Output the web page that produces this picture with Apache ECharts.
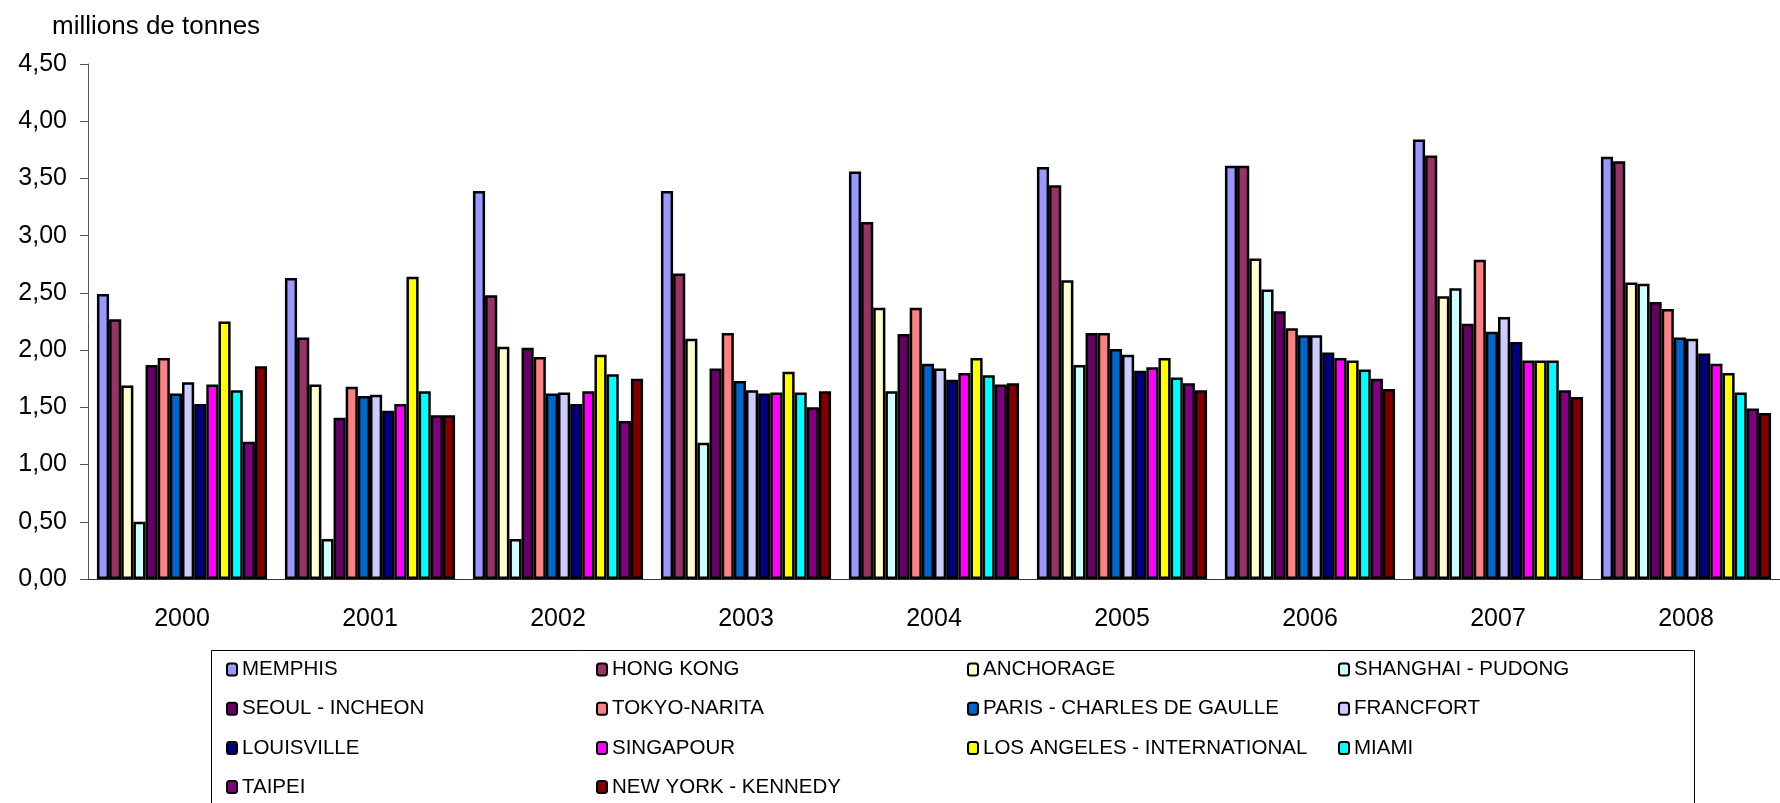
<!DOCTYPE html>
<html>
<head>
<meta charset="utf-8">
<title>Fret aéroports</title>
<script src="https://cdn.jsdelivr.net/npm/echarts@6/dist/echarts.min.js"></script>
<style>
  html, body { margin: 0; padding: 0; background: #fff; }
  #main { width: 1780px; height: 803px; }
</style>
</head>
<body>
<div id="main"></div>
<script>
// années (catégories)
var years = ['2000', '2001', '2002', '2003', '2004', '2005', '2006', '2007', '2008']

// millions de tonnes par aéroport
var memphis = [2.49, 2.63, 3.39, 3.39, 3.56, 3.60, 3.61, 3.84, 3.69]
var hongKong = [2.27, 2.11, 2.48, 2.67, 3.12, 3.44, 3.61, 3.70, 3.65]
var anchorage = [1.69, 1.70, 2.03, 2.10, 2.37, 2.61, 2.80, 2.47, 2.59]
var shanghai = [0.50, 0.35, 0.35, 1.19, 1.64, 1.87, 2.53, 2.54, 2.58]
var seoul = [1.87, 1.41, 2.02, 1.84, 2.14, 2.15, 2.34, 2.23, 2.42]
var tokyo = [1.93, 1.68, 1.94, 2.15, 2.37, 2.15, 2.19, 2.79, 2.36]
var paris = [1.62, 1.60, 1.62, 1.73, 1.88, 2.01, 2.13, 2.16, 2.11]
var francfort = [1.72, 1.61, 1.63, 1.65, 1.84, 1.96, 2.13, 2.29, 2.10]
var louisville = [1.53, 1.47, 1.53, 1.62, 1.74, 1.82, 1.98, 2.07, 1.97]
var singapour = [1.70, 1.53, 1.64, 1.63, 1.80, 1.85, 1.93, 1.91, 1.88]
var losAngeles = [2.25, 2.64, 1.96, 1.81, 1.93, 1.93, 1.91, 1.91, 1.80]
var miami = [1.65, 1.64, 1.79, 1.63, 1.78, 1.76, 1.83, 1.91, 1.63]
var taipei = [1.20, 1.43, 1.38, 1.50, 1.70, 1.71, 1.75, 1.65, 1.49]
var newYork = [1.86, 1.43, 1.75, 1.64, 1.71, 1.65, 1.66, 1.59, 1.45]

var names = ['MEMPHIS', 'HONG KONG', 'ANCHORAGE', 'SHANGHAI - PUDONG', 'SEOUL - INCHEON',
  'TOKYO-NARITA', 'PARIS - CHARLES DE GAULLE', 'FRANCFORT', 'LOUISVILLE', 'SINGAPOUR',
  'LOS ANGELES - INTERNATIONAL', 'MIAMI', 'TAIPEI', 'NEW YORK - KENNEDY']
var values = [memphis, hongKong, anchorage, shanghai, seoul, tokyo, paris, francfort,
  louisville, singapour, losAngeles, miami, taipei, newYork]
var colors = ['#9999FF', '#993366', '#FFFFCC', '#CCFFFF', '#660066', '#FF8080', '#0066CC',
  '#CCCCFF', '#000080', '#FF00FF', '#FFFF00', '#00FFFF', '#800080', '#800000']

var font = '"Liberation Sans", Arial, sans-serif'

var chart = echarts.init(document.getElementById('main'))

var series = names.map(function (n, i) {
  return {
    name: n,
    type: 'bar',
    barGap: '0%',
    barCategoryGap: '9.5%',
    itemStyle: {
      color: colors[i],
      borderColor: '#000',
      borderWidth: 2.5
    },
    data: values[i]
  }
})

// légende en 4 colonnes
var cols = [
  { left: 226, items: [names[0], names[4], names[8], names[12]] },
  { left: 596, items: [names[1], names[5], names[9], names[13]] },
  { left: 967, items: [names[2], names[6], names[10]] },
  { left: 1338, items: [names[3], names[7], names[11]] }
]
var legends = cols.map(function (c) {
  return {
    orient: 'vertical',
    left: c.left,
    top: 659,
    padding: 0,
    itemWidth: 10,
    itemHeight: 12,
    itemGap: 18.2,
    selectedMode: false,
    textStyle: {
      fontFamily: font,
      fontSize: 20.5,
      lineHeight: 20,
      color: '#000'
    },
    data: c.items
  }
})

chart.setOption({
  animation: false,
  color: colors,
  title: {
    text: 'millions de tonnes',
    left: 52,
    top: 14,
    padding: 0,
    textStyle: {
      fontFamily: font,
      fontSize: 26,
      fontWeight: 'normal',
      color: '#000'
    }
  },
  legend: legends,
  graphic: [
    {
      type: 'rect',
      shape: { x: 211.5, y: 650.5, width: 1483, height: 170 },
      style: { fill: 'none', stroke: '#000', lineWidth: 1 },
      silent: true
    }
  ],
  grid: {
    left: 88,
    top: 64,
    width: 1710,
    height: 515
  },
  xAxis: {
    type: 'category',
    data: years,
    axisLine: { lineStyle: { color: '#333', width: 1 } },
    axisTick: { length: 8, lineStyle: { color: '#333' } },
    axisLabel: {
      margin: 28,
      fontFamily: font,
      fontSize: 25,
      color: '#000'
    }
  },
  yAxis: {
    type: 'value',
    min: 0,
    max: 4.5,
    interval: 0.5,
    splitLine: { show: false },
    axisLine: { show: true, lineStyle: { color: '#555', width: 1 } },
    axisTick: { show: true, length: 8, lineStyle: { color: '#555' } },
    axisLabel: {
      margin: 21,
      fontFamily: font,
      fontSize: 25,
      color: '#000',
      formatter: function (v) {
        return v.toFixed(2).replace('.', ',')
      }
    }
  },
  series: series
})
</script>
</body>
</html>
